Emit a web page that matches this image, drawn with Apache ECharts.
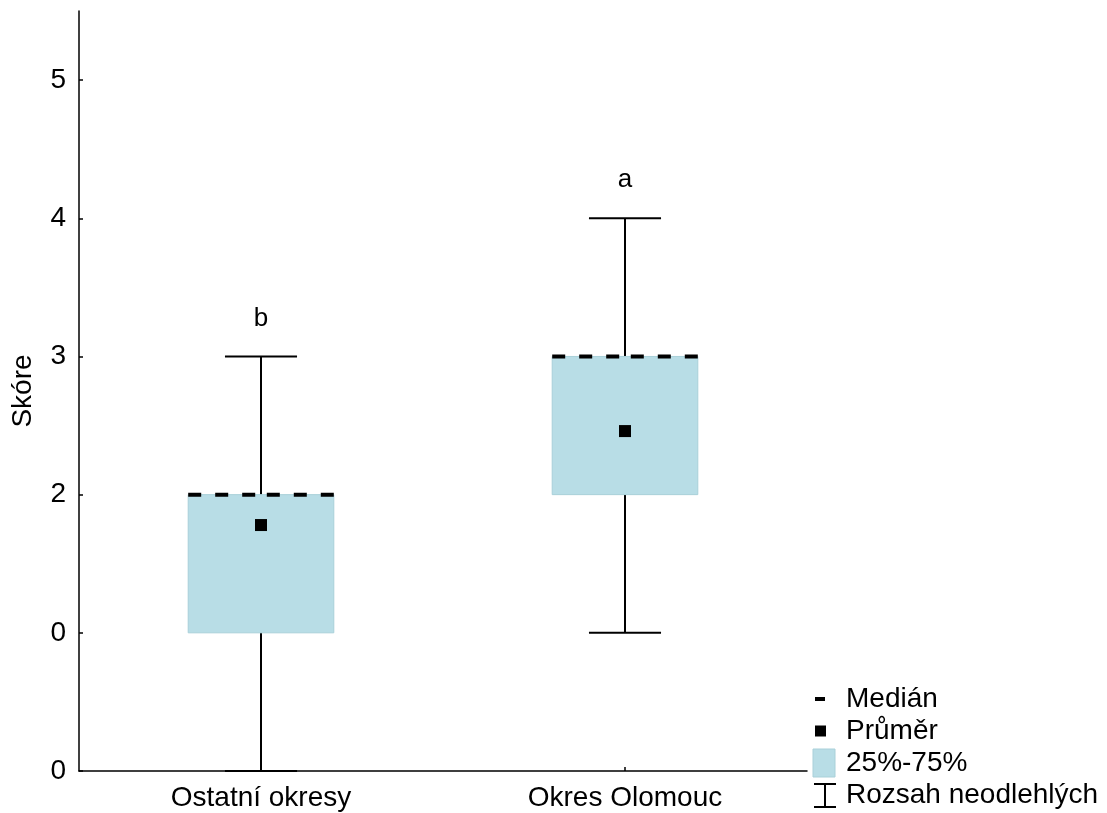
<!DOCTYPE html>
<html>
<head>
<meta charset="utf-8">
<script src="https://cdn.jsdelivr.net/npm/echarts@6/dist/echarts.min.js"></script>
<style>
  html, body { margin: 0; padding: 0; background: #fff; }
  #chart { width: 1107px; height: 813px; }
</style>
</head>
<body>
<div id="chart"></div>
<script>
// Groups and their summary statistics
const categories = ['Ostatní okresy', 'Okres Olomouc'];
const whiskerMin = [0, 1];
const quartile1 = [1, 2];
const medians = [2, 3];
const quartile3 = [2, 3];
const whiskerMax = [3, 4];
const means = [1.78, 2.46];
const groupLetters = ['b', 'a'];

// Y axis tick labels, one per integer tick from 0 upward
const yTickLabels = ['0', '0', '2', '3', '4', '5'];

// Legend entries
const legendLabels = ['Medián', 'Průměr', '25%-75%', 'Rozsah neodlehlých'];

const FONT = '"Liberation Sans", Arial, sans-serif';
const BOX_FILL = '#b8dde6';
const BOX_EDGE = '#a9d0d9';

const boxData = categories.map((c, i) => [i, whiskerMin[i], quartile1[i], medians[i], quartile3[i], whiskerMax[i], means[i]]);

function renderBox(params, api) {
  const i = api.value(0);
  const cx = api.coord([i, 0])[0];
  const band = api.size([1, 0])[0];
  const yMin = api.coord([i, api.value(1)])[1];
  const yQ1 = api.coord([i, api.value(2)])[1];
  const yMed = api.coord([i, api.value(3)])[1];
  const yQ3 = api.coord([i, api.value(4)])[1];
  const yMax = api.coord([i, api.value(5)])[1];
  const yMean = api.coord([i, api.value(6)])[1];
  const halfBox = band * 0.2;
  const halfCap = band * 0.099;
  const lineStyle = { stroke: '#000', lineWidth: 2 };
  const dashStyle = { stroke: '#000', lineWidth: 4, lineDash: [13, 14] };

  return {
    type: 'group',
    children: [
      // whiskers
      { type: 'line', shape: { x1: cx, y1: yQ3, x2: cx, y2: yMax }, style: lineStyle },
      { type: 'line', shape: { x1: cx, y1: yQ1, x2: cx, y2: yMin }, style: lineStyle },
      { type: 'line', shape: { x1: cx - halfCap, y1: yMax, x2: cx + halfCap, y2: yMax }, style: lineStyle },
      { type: 'line', shape: { x1: cx - halfCap, y1: yMin, x2: cx + halfCap, y2: yMin }, style: lineStyle },
      // interquartile box
      { type: 'rect', shape: { x: cx - halfBox, y: yQ3, width: halfBox * 2, height: yQ1 - yQ3 },
        style: { fill: BOX_FILL, stroke: BOX_EDGE, lineWidth: 1 } },
      // median, dashed from each box edge toward the centre
      { type: 'line', shape: { x1: cx - halfBox, y1: yMed, x2: cx, y2: yMed }, style: dashStyle },
      { type: 'line', shape: { x1: cx + halfBox, y1: yMed, x2: cx, y2: yMed }, style: dashStyle },
      // mean
      { type: 'rect', shape: { x: cx - 6, y: yMean - 6, width: 12, height: 12 }, style: { fill: '#000' } },
      // significance letter
      { type: 'text', x: cx, y: yMax - 25,
        style: { text: groupLetters[i], fill: '#000', font: '26px ' + FONT, align: 'center', verticalAlign: 'bottom' } }
    ]
  };
}

// Legend drawn as graphic elements at the lower right
const LX = 846;
const legendRows = [699, 731, 763, 795];
const legendGraphics = [
  { type: 'rect', shape: { x: 815, y: legendRows[0] - 2, width: 10, height: 4 }, style: { fill: '#000' } },
  { type: 'rect', shape: { x: 815, y: legendRows[1] - 5.5, width: 11, height: 11 }, style: { fill: '#000' } },
  { type: 'rect', shape: { x: 813, y: legendRows[2] - 14, width: 22, height: 28 }, style: { fill: BOX_FILL, stroke: BOX_EDGE, lineWidth: 1 } },
  { type: 'polyline', shape: { points: [[814, legendRows[3] - 11], [836, legendRows[3] - 11]] }, style: { stroke: '#000', lineWidth: 2 } },
  { type: 'polyline', shape: { points: [[825, legendRows[3] - 11], [825, legendRows[3] + 12]] }, style: { stroke: '#000', lineWidth: 2 } },
  { type: 'polyline', shape: { points: [[814, legendRows[3] + 12], [836, legendRows[3] + 12]] }, style: { stroke: '#000', lineWidth: 2 } }
].concat(legendLabels.map((t, k) => ({
  type: 'text', x: LX, y: legendRows[k],
  style: { text: t, fill: '#000', font: '28px ' + FONT, verticalAlign: 'middle' }
})));

const chart = echarts.init(document.getElementById('chart'), null, { renderer: 'canvas' });
chart.setOption({
  backgroundColor: '#fff',
  animation: false,
  grid: { left: 79, right: 300, top: 11, bottom: 42, containLabel: false, outerBoundsMode: 'none' },
  xAxis: {
    type: 'category',
    data: categories,
    boundaryGap: true,
    axisLine: { lineStyle: { color: '#000', width: 1.5 } },
    axisTick: { show: true, inside: true, length: 4, alignWithLabel: true, lineStyle: { color: '#000', width: 1.5 } },
    axisLabel: { color: '#000', fontSize: 28, fontFamily: FONT, margin: 13 },
    splitLine: { show: false }
  },
  yAxis: {
    type: 'value',
    min: 0,
    max: 5.5,
    interval: 1,
    name: 'Skóre',
    nameLocation: 'middle',
    nameGap: 42,
    nameRotate: 90,
    nameTextStyle: { color: '#000', fontSize: 28, fontFamily: FONT },
    axisLine: { show: true, lineStyle: { color: '#000', width: 1.5 } },
    axisTick: { show: true, inside: true, length: 4, lineStyle: { color: '#000', width: 1.5 } },
    axisLabel: {
      color: '#000', fontSize: 28, fontFamily: FONT, margin: 13, showMaxLabel: false,
      formatter: v => (Number.isInteger(v) && yTickLabels[v] !== undefined) ? yTickLabels[v] : ''
    },
    splitLine: { show: false }
  },
  series: [{
    type: 'custom',
    renderItem: renderBox,
    encode: { x: 0, y: [1, 2, 3, 4, 5, 6] },
    data: boxData,
    z: 5
  }],
  graphic: legendGraphics
});
</script>
</body>
</html>
